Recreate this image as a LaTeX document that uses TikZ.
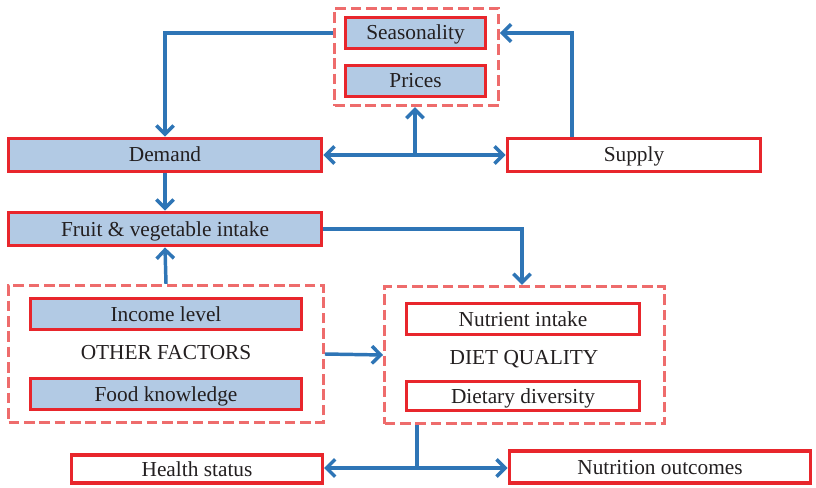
\documentclass[tikz,border=0pt]{standalone}
\usepackage{fontspec}
\setmainfont{Liberation Serif}
\usetikzlibrary{arrows.meta,calc}
\definecolor{boxred}{RGB}{232,38,44}
\definecolor{dashred}{RGB}{238,108,108}
\definecolor{linkblue}{RGB}{46,117,182}
\definecolor{boxfill}{RGB}{178,202,228}
\definecolor{txt}{RGB}{35,31,32}
\begin{document}
\begin{tikzpicture}[x=0.75pt,y=-0.75pt,
  >={Straight Barb[length=6.5pt,width=13pt]},
  label/.style={text=txt,font=\fontsize{16}{19}\selectfont,text height=14pt,text depth=3.5pt},
  box/.style={label,draw=boxred,line width=2.6pt,inner sep=0pt},
  shaded/.style={box,fill=boxfill},
  group/.style={draw=dashred,line width=2.2pt,dash pattern=on 8pt off 3.5pt,inner sep=0pt},
  link/.style={draw=linkblue,line width=2.6pt,->},
  twolink/.style={link,<->}]
\useasboundingbox (0,0) rectangle (816,488);

% prices group
\node[group,minimum width=123pt,minimum height=73pt] (grp) at (416.5,57) {};
\node[shaded,minimum width=105pt,minimum height=23pt] (seas) at (415.5,33) {Seasonality};
\node[shaded,minimum width=105pt,minimum height=23pt] (price) at (415.5,81) {Prices};

% market
\node[shaded,minimum width=235pt,minimum height=25pt] (demand) at (165,155) {Demand};
\node[box,minimum width=190pt,minimum height=25pt] (supply) at (634,155) {Supply};
\node[shaded,minimum width=235pt,minimum height=25pt] (fruit) at (165,229) {Fruit \& vegetable intake};

% other factors
\node[group,minimum width=236pt,minimum height=103pt] (other) at (166,354) {};
\node[shaded,minimum width=203pt,minimum height=23pt] (income) at (166,314) {Income level};
\node[label] (otherlbl) at (166,352) {OTHER FACTORS};
\node[shaded,minimum width=203pt,minimum height=23pt] (know) at (166,394) {Food knowledge};

% diet quality
\node[group,minimum width=210pt,minimum height=103pt] (diet) at (524.5,355) {};
\node[box,minimum width=175pt,minimum height=23pt] (nutr) at (523,319) {Nutrient intake};
\node[label] (dietlbl) at (524,357) {DIET QUALITY};
\node[box,minimum width=175pt,minimum height=22pt] (divers) at (523,396) {Dietary diversity};

% outcomes
\node[box,minimum width=188pt,minimum height=21pt] (health) at (197,469) {Health status};
\node[box,minimum width=226pt,minimum height=24pt] (outcome) at (660,467) {Nutrition outcomes};

\coordinate (mid) at (415,155);
\coordinate (sup) at (572,137);
\coordinate (split) at (417,468);

\draw[link] (grp.west |- seas) -| (demand.north);
\draw[link] (sup) |- (grp.east |- seas);
\draw[twolink] (demand.east) -- (supply.west);
\draw[link] (mid) -- (mid |- grp.south);
\draw[link] (demand.south) -- (fruit.north);
\draw[link] (other.north) -- (fruit.south);
\draw[link] (fruit.east) -| (522,0 |- diet.north);
\draw[link] (other.east) -- (diet.west);
\draw[linkblue,line width=2.6pt] (split |- diet.south) -- (split);
\draw[link] (split) -- (health.east |- split);
\draw[link] (split) -- (outcome.west |- split);
\end{tikzpicture}
\end{document}
